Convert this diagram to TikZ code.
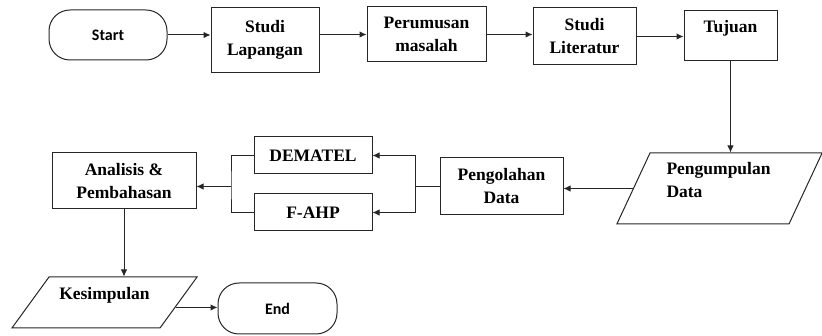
\documentclass[tikz,border=0pt]{standalone}
\usepackage{fontspec}
\setmainfont{Liberation Serif}
\newfontfamily\termfont{Carlito}
\usetikzlibrary{shapes.geometric, arrows.meta, positioning}

\tikzset{
  box/.style={draw=black!85, line width=1pt, rectangle, align=center, inner sep=2pt,
    font=\bfseries\fontsize{17.5}{23}\selectfont},
  terminal/.style={box, rounded corners=21pt, font=\termfont\bfseries\fontsize{16}{19}\selectfont},
  iobox/.style={box, trapezium, inner ysep=0pt},
  arr/.style={-{Latex[length=7pt,width=6.5pt]}, line width=1pt, draw=black!85},
  link/.style={line width=1pt, draw=black!85}
}

\begin{document}
\begin{tikzpicture}[x=1pt,y=-1pt]

\useasboundingbox (0,0) rectangle (822,336);

% Top row
\node[terminal, minimum width=118pt, minimum height=50pt] (start) at (108,35) {Start};
\node[box, minimum width=108pt, minimum height=65pt] (lapangan) at (265,40) {Studi\\Lapangan};
\node[box, minimum width=119pt, minimum height=55pt] (rumusan) at (426.5,34.5) {Perumusan\\masalah};
\node[box, minimum width=103pt, minimum height=57pt] (literatur) at (584.5,36.5) {Studi\\Literatur};
\node[box, minimum width=93pt, minimum height=50pt, text height=12pt, text depth=18pt] (tujuan) at (730.5,36) {Tujuan};

% Middle row
\node[iobox, trapezium left angle=65, trapezium right angle=115, align=left,
      text width=106pt, inner xsep=16.5pt, text height=22pt, text depth=49pt] (pengumpulan) at (719.5,188.5) {Pengumpulan\\Data};
\node[box, minimum width=123pt, minimum height=57pt] (pengolahan) at (501.5,186.5) {Pengolahan\\Data};
\node[box, minimum width=118pt, minimum height=37pt] (dematel) at (313,155.5) {DEMATEL};
\node[box, minimum width=118pt, minimum height=37pt] (fahp) at (313,212.5) {F-AHP};
\node[box, minimum width=144pt, minimum height=56pt] (analisis) at (124,181) {Analisis \&\\Pembahasan};

% Bottom row
\node[iobox, trapezium left angle=54, trapezium right angle=126,
      text width=100pt, inner xsep=5.5pt, text height=23pt, text depth=28pt] (kesimpulan) at (104.5,302.5) {Kesimpulan};
\node[terminal, minimum width=119pt, minimum height=51pt] (end) at (277.5,308.5) {End};

% Split and merge points
\coordinate[left=24pt of pengolahan.west] (split);
\coordinate (merge) at (231,186.5);

% Connectors
\draw[arr] (start.east) -- (start.east -| lapangan.west);
\draw[arr] (rumusan.west -| lapangan.east) -- (rumusan.west);
\draw[arr] (rumusan.east) -- (rumusan.east -| literatur.west);
\draw[arr] (literatur.east) -- (literatur.east -| tujuan.west);
\draw[arr] (tujuan.south) -- (tujuan.south |- pengumpulan.north);
\draw[arr] (pengumpulan.west) -- (pengumpulan.west -| pengolahan.east);
\draw[link, line width=1.8pt] (pengolahan.west) -- (split);
\draw[arr] (split) |- (dematel.east);
\draw[arr] (split) |- (fahp.east);
\draw[link] (dematel.west) -| (merge) |- (fahp.west);
\draw[arr] (merge) -- (merge -| analisis.east);
\draw[arr] (analisis.south) -- (analisis.south |- kesimpulan.north);
\draw[arr] (kesimpulan.-4.5) -- (kesimpulan.-4.5 -| end.west);

\end{tikzpicture}
\end{document}
